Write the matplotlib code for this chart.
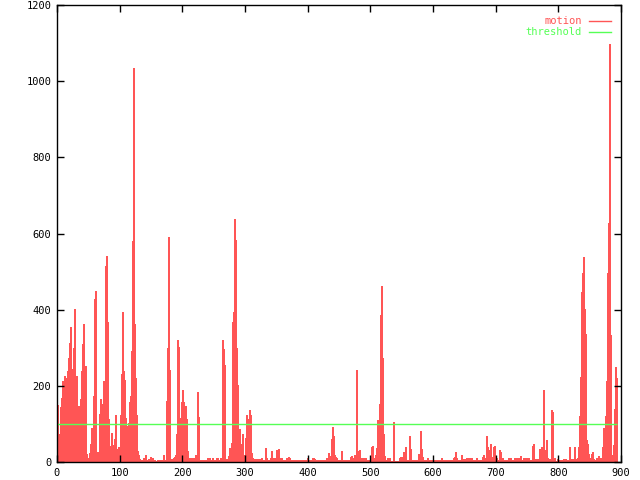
import numpy as np
import matplotlib
matplotlib.use("Agg")
import matplotlib.pyplot as plt

motion = [
    148, 72, 41, 142, 168, 212, 89, 225, 216, 220,
    238, 273, 312, 353, 109, 242, 299, 400, 164, 225,
    89, 146, 76, 164, 238, 308, 360, 251, 251, 19,
    10, 2, 22, 45, 88, 33, 172, 426, 448, 15,
    25, 6, 124, 164, 102, 150, 212, 212, 514, 540,
    367, 111, 41, 41, 76, 43, 43, 60, 122, 25,
    34, 37, 25, 122, 229, 393, 238, 214, 115, 94,
    69, 102, 155, 171, 290, 579, 1032, 360, 218, 122,
    28, 17, 6, 2, 5, 3, 8, 3, 18, 4,
    3, 6, 3, 12, 8, 8, 3, 3, 2, 2,
    3, 2, 3, 2, 3, 2, 16, 4, 3, 158,
    297, 589, 239, 7, 6, 3, 8, 13, 17, 72,
    318, 300, 113, 110, 155, 189, 156, 80, 147, 112,
    28, 9, 9, 9, 9, 10, 9, 9, 16, 9,
    182, 118, 5, 3, 3, 3, 3, 3, 3, 3,
    8, 3, 8, 3, 3, 8, 3, 3, 3, 8,
    8, 3, 3, 8, 3, 320, 296, 253, 7, 3,
    7, 14, 36, 27, 49, 366, 392, 638, 581, 297,
    201, 30, 86, 7, 45, 71, 16, 5, 62, 123,
    84, 112, 134, 123, 23, 10, 7, 7, 7, 5,
    7, 5, 7, 5, 8, 5, 5, 5, 36, 8,
    5, 5, 5, 8, 28, 8, 5, 8, 8, 29,
    25, 32, 8, 5, 8, 5, 5, 5, 5, 8,
    10, 12, 8, 5, 5, 5, 5, 3, 3, 5,
    3, 3, 5, 3, 3, 3, 3, 3, 5, 3,
    8, 5, 3, 5, 3, 8, 10, 6, 3, 3,
    3, 3, 3, 3, 3, 3, 3, 3, 5, 8,
    8, 22, 8, 14, 60, 90, 68, 16, 12, 8,
    5, 5, 5, 5, 27, 5, 5, 5, 5, 5,
    5, 5, 5, 11, 14, 8, 8, 16, 18, 241,
    16, 27, 29, 8, 8, 8, 8, 8, 8, 5,
    5, 5, 5, 5, 39, 42, 5, 8, 16, 35,
    110, 108, 151, 384, 461, 273, 71, 14, 5, 5,
    8, 5, 8, 2, 2, 2, 103, 2, 2, 2,
    2, 2, 8, 13, 5, 13, 25, 5, 37, 5,
    5, 5, 68, 34, 5, 5, 5, 5, 5, 5,
    5, 19, 19, 81, 34, 13, 5, 5, 5, 5,
    8, 5, 5, 5, 5, 5, 5, 5, 5, 5,
    5, 5, 5, 8, 5, 5, 5, 5, 5, 5,
    5, 5, 5, 5, 5, 8, 11, 24, 9, 3,
    3, 3, 3, 16, 6, 6, 6, 6, 8, 8,
    8, 8, 8, 8, 5, 5, 5, 5, 8, 5,
    5, 5, 5, 5, 13, 18, 7, 8, 66, 39,
    16, 31, 45, 11, 5, 37, 42, 5, 8, 5,
    5, 31, 24, 5, 8, 5, 5, 5, 5, 5,
    8, 5, 8, 5, 5, 5, 10, 8, 5, 8,
    10, 8, 15, 5, 5, 8, 5, 10, 10, 10,
    8, 5, 5, 5, 40, 47, 6, 6, 6, 6,
    6, 32, 30, 37, 17, 187, 19, 31, 56, 10,
    6, 6, 6, 135, 130, 3, 8, 2, 2, 6,
    3, 3, 3, 3, 3, 6, 3, 6, 4, 4,
    4, 37, 6, 6, 6, 6, 37, 6, 6, 8,
    37, 120, 223, 445, 496, 538, 400, 336, 56, 47,
    19, 6, 8, 19, 26, 6, 3, 3, 10, 8,
    15, 4, 8, 8, 37, 87, 47, 120, 212, 496,
    626, 1096, 332, 13, 17, 43, 139, 247, 218,
]
frame_step = 1.6
threshold = 100

xticks = [0, 100, 200, 300, 400, 500, 600, 700, 800, 900]
yticks = [0, 200, 400, 600, 800, 1000, 1200]

red = "#ff5555"
green = "#55ff55"
mono = "DejaVu Sans Mono"

edges = np.arange(len(motion) + 1) * frame_step

fig = plt.figure(figsize=(6.4, 4.8), dpi=100)
ax = fig.add_axes([57 / 640, 18 / 480, 564 / 640, 457 / 480])

ax.stairs(motion, edges, fill=True, color=red, linewidth=0, antialiased=False)
ax.hlines(threshold, edges[0], edges[-1], color=green, linewidth=1)

ax.set_xlim(0, 900)
ax.set_ylim(0, 1200)
ax.set_xticks(xticks)
ax.set_yticks(yticks)
ax.tick_params(direction="in", length=5, width=1, top=True, right=True,
               labelsize=7.5, pad=4)
for lab in ax.get_xticklabels() + ax.get_yticklabels():
    lab.set_family(mono)
for s in ax.spines.values():
    s.set_linewidth(1)

# legend (gnuplot style: text right-aligned, sample line on the right)
ax.text(0.931, 0.966, "motion", transform=ax.transAxes, ha="right", va="center",
        color=red, family=mono, fontsize=7.5)
ax.plot([0.943, 0.982], [0.966, 0.966], transform=ax.transAxes, color=red, lw=1)
ax.text(0.931, 0.942, "threshold", transform=ax.transAxes, ha="right", va="center",
        color=green, family=mono, fontsize=7.5)
ax.plot([0.943, 0.982], [0.942, 0.942], transform=ax.transAxes, color=green, lw=1)

fig.savefig("out.png", dpi=100)
